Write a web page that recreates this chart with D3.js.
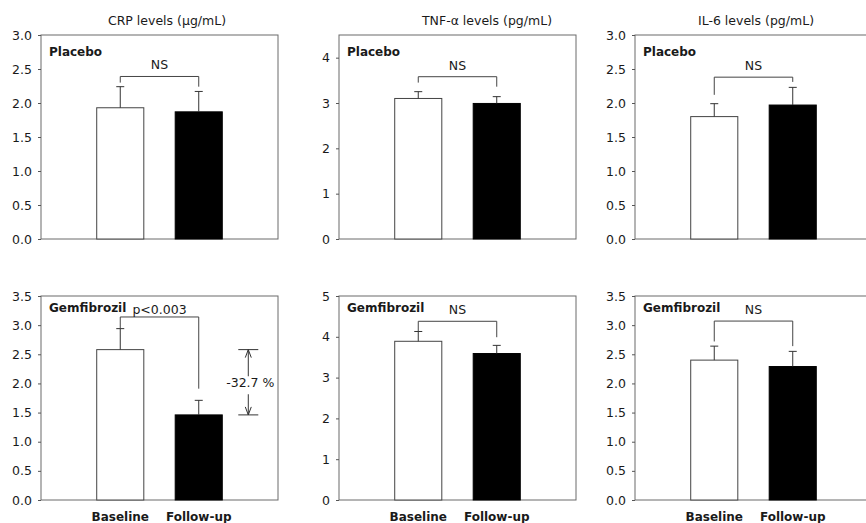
<!DOCTYPE html>
<html>
<head>
<meta charset="utf-8">
<script src="https://cdn.jsdelivr.net/npm/d3@7"></script>
<style>
  body { margin: 0; background: #fff; }
  svg { display: block; }
  text { font-family: "DejaVu Sans", sans-serif; fill: #1a1a1a; }
</style>
</head>
<body>
<svg width="866" height="523"></svg>
<script>
// Data: [Baseline, Follow-up] per marker
const groups = ["Baseline", "Follow-up"];
const markers = ["CRP levels (µg/mL)", "TNF-α levels (pg/mL)", "IL-6 levels (pg/mL)"];
const treatments = ["Placebo", "Gemfibrozil"];

const placeboMean = [[1.93, 1.87], [3.10, 2.99], [1.80, 1.97]];
const placeboSE   = [[0.31, 0.30], [0.15, 0.15], [0.19, 0.26]];
const gemMean     = [[2.58, 1.46], [3.89, 3.59], [2.40, 2.29]];
const gemSE       = [[0.36, 0.25], [0.24, 0.20], [0.24, 0.26]];

const yMax     = [[3.0, 4.5, 3.0], [3.5, 5, 3.5]];
const tickStep = [[0.5, 1, 0.5], [0.5, 1, 0.5]];
const tickTop  = [[3.0, 4, 3.0], [3.5, 5, 3.5]];

const sigLabel    = [["NS", "NS", "NS"], ["p<0.003", "NS", "NS"]];
const bracketAt   = [[2.39, 3.58, 2.38], [3.14, 4.38, 3.07]];
const bracketLegs = [[[2.30, 2.24], [3.45, 3.36], [2.12, 2.31]],
                     [[2.95, 1.91], [4.13, 3.99], [2.72, 2.64]]];
const changeLabel = "-32.7 %";

// layout
const colX = [41, 339, 635];
const rowY = [35, 296];
const titleX = [167, 487, 756];
const pw = 237, ph = 204;

const svg = d3.select("svg");

const x = d3.scaleBand()
  .domain(groups)
  .range([0, pw])
  .paddingInner(0.4)
  .paddingOuter(0.71);

// column titles
markers.forEach((m, c) => {
  svg.append("text")
    .attr("x", titleX[c]).attr("y", 25)
    .attr("text-anchor", "middle")
    .style("font-size", "12.5px")
    .text(m);
});

const means = [placeboMean, gemMean];
const ses = [placeboSE, gemSE];

for (let r = 0; r < 2; r++) {
  for (let c = 0; c < 3; c++) {
    const g = svg.append("g").attr("transform", `translate(${colX[c]},${rowY[r]})`);
    const y = d3.scaleLinear().domain([0, yMax[r][c]]).range([ph, 0]);
    const step = tickStep[r][c];
    const ticks = d3.range(0, tickTop[r][c] + step / 2, step);

    // frame
    g.append("rect")
      .attr("x", 0).attr("y", 0).attr("width", pw).attr("height", ph)
      .attr("fill", "none").attr("stroke", "#6a6a6a").attr("stroke-width", 1);

    const axis = g.append("g")
      .call(d3.axisLeft(y)
        .tickValues(ticks)
        .tickSize(3)
        .tickPadding(6)
        .tickFormat(step < 1 ? d3.format(".1f") : d3.format("d")));
    axis.select(".domain").remove();
    axis.selectAll("line").attr("stroke", "#555");
    axis.selectAll("text")
      .style("font-family", "\"DejaVu Sans\", sans-serif")
      .style("font-size", "12.5px")
      .attr("fill", "#1a1a1a");

    const vals = means[r][c];
    const errs = ses[r][c];

    // bars
    g.selectAll("rect.bar")
      .data(groups)
      .join("rect")
      .attr("class", "bar")
      .attr("x", d => x(d))
      .attr("width", x.bandwidth())
      .attr("y", (d, i) => y(vals[i]))
      .attr("height", (d, i) => ph - y(vals[i]))
      .attr("fill", (d, i) => i === 0 ? "#fff" : "#000")
      .attr("stroke", (d, i) => i === 0 ? "#444" : "#000")
      .attr("stroke-width", 1);

    // upper error bars
    groups.forEach((d, i) => {
      const cx = x(d) + x.bandwidth() / 2;
      g.append("line")
        .attr("x1", cx).attr("x2", cx)
        .attr("y1", y(vals[i])).attr("y2", y(vals[i] + errs[i]))
        .attr("stroke", "#333");
      g.append("line")
        .attr("x1", cx - 4).attr("x2", cx + 4)
        .attr("y1", y(vals[i] + errs[i])).attr("y2", y(vals[i] + errs[i]))
        .attr("stroke", "#333");
    });

    // significance bracket
    const x0 = x(groups[0]) + x.bandwidth() / 2;
    const x1 = x(groups[1]) + x.bandwidth() / 2;
    const by = y(bracketAt[r][c]);
    const legs = bracketLegs[r][c];
    g.append("path")
      .attr("d", `M${x0},${y(legs[0])}V${by}H${x1}V${y(legs[1])}`)
      .attr("fill", "none").attr("stroke", "#444");
    const lab = sigLabel[r][c];
    g.append("text")
      .attr("x", (x0 + x1) / 2)
      .attr("y", by - (lab === "NS" ? 7 : 3))
      .attr("text-anchor", "middle")
      .style("font-size", "12.5px")
      .text(lab);

    // panel label
    g.append("text")
      .attr("x", 8)
      .attr("y", r === 0 ? 21 : 16)
      .style("font-size", "12px")
      .style("font-weight", "bold")
      .text(treatments[r]);

    // x labels on bottom row
    if (r === 1) {
      g.selectAll("text.xl")
        .data(groups)
        .join("text")
        .attr("class", "xl")
        .attr("x", d => x(d) + x.bandwidth() / 2)
        .attr("y", ph + 21)
        .attr("text-anchor", "middle")
        .style("font-size", "12px")
        .style("font-weight", "bold")
        .text(d => d);
    }

    // percent change annotation on gemfibrozil CRP
    if (r === 1 && c === 0) {
      const ax = x(groups[1]) + x.bandwidth() + 26;
      const yt = y(vals[0]), yb = y(vals[1]);
      const mid = (yt + yb) / 2;
      const a = g.append("g").attr("fill", "none").attr("stroke", "#333");
      a.append("line").attr("x1", ax - 10).attr("x2", ax + 10).attr("y1", yt).attr("y2", yt);
      a.append("line").attr("x1", ax - 10).attr("x2", ax + 10).attr("y1", yb).attr("y2", yb);
      a.append("path").attr("d", `M${ax},${mid - 6}V${yt}M${ax - 3},${yt + 8}L${ax},${yt}L${ax + 3},${yt + 8}`);
      a.append("path").attr("d", `M${ax},${mid + 12}V${yb}M${ax - 3},${yb - 8}L${ax},${yb}L${ax + 3},${yb - 8}`);
      g.append("text")
        .attr("x", ax + 2)
        .attr("y", mid + 4.5)
        .attr("text-anchor", "middle")
        .style("font-size", "12.5px")
        .text(changeLabel);
    }
  }
}
</script>
</body>
</html>
